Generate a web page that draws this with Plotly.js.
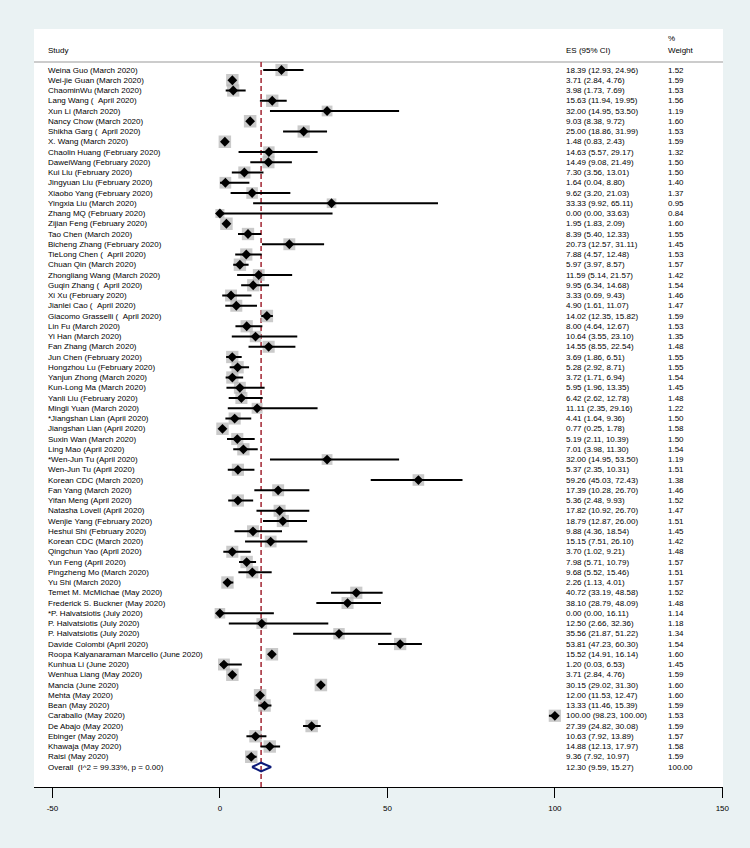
<!DOCTYPE html>
<html>
<head>
<meta charset="utf-8">
<script src="https://cdn.plot.ly/plotly-3.0.1.min.js"></script>
<style>html,body{margin:0;padding:0;background:#eaf2f3;}#chart{width:750px;height:848px;}</style>
</head>
<body>
<div id="chart"></div>
<script>
const studies = [
"Weina Guo (March 2020)","Wei-jie Guan (March 2020)","ChaominWu (March 2020)","Lang Wang (  April 2020)",
"Xun Li (March 2020)","Nancy Chow (March 2020)","Shikha Garg (  April 2020)","X. Wang (March 2020)",
"Chaolin Huang (February 2020)","DaweiWang (February 2020)","Kui Liu (February 2020)","Jingyuan Liu (February 2020)",
"Xiaobo Yang (February 2020)","Yingxia Liu (March 2020)","Zhang MQ (February 2020)","Zijian Feng (February 2020)",
"Tao Chen (March 2020)","Bicheng Zhang (February 2020)","TieLong Chen (  April 2020)","Chuan Qin (March 2020)",
"Zhongliang Wang (March 2020)","Guqin Zhang (  April 2020)","Xi Xu (February 2020)","Jianlei Cao (  April 2020)",
"Giacomo Grasselli (  April 2020)","Lin Fu (March 2020)","Yi Han (March 2020)","Fan Zhang (March 2020)",
"Jun Chen (February 2020)","Hongzhou Lu (February 2020)","Yanjun Zhong (March 2020)","Kun-Long Ma (March 2020)",
"Yanli Liu (February 2020)","Mingli Yuan (March 2020)","*Jiangshan Lian (April 2020)","Jiangshan Lian (April 2020)",
"Suxin Wan (March 2020)","Ling Mao (April 2020)","*Wen-Jun Tu (April 2020)","Wen-Jun Tu (April 2020)",
"Korean CDC (March 2020)","Fan Yang (March 2020)","Yifan Meng (April 2020)","Natasha Lovell (April 2020)",
"Wenjie Yang (February 2020)","Heshui Shi (February 2020)","Korean CDC (March 2020)","Qingchun Yao (April 2020)",
"Yun Feng (April 2020)","Pingzheng Mo (March 2020)","Yu Shi (March 2020)","Temet M. McMichae (May 2020)",
"Frederick S. Buckner (May 2020)","*P. Halvatsiotis (July 2020)","P. Halvatsiotis (July 2020)","P. Halvatsiotis (July 2020)",
"Davide Colombi (April 2020)","Roopa Kalyanaraman Marcello (June 2020)","Kunhua Li (June 2020)","Wenhua Liang (May 2020)",
"Mancia (June 2020)","Mehta (May 2020)","Bean (May 2020)","Caraballo (May 2020)",
"De Abajo (May 2020)","Ebinger (May 2020)","Khawaja (May 2020)","Raisi (May 2020)"
];
const es = [18.39,3.71,3.98,15.63,32.00,9.03,25.00,1.48,14.63,14.49,7.30,1.64,9.62,33.33,0.00,1.95,8.39,20.73,7.88,5.97,11.59,9.95,3.33,4.90,14.02,8.00,10.64,14.55,3.69,5.28,3.72,5.95,6.42,11.11,4.41,0.77,5.19,7.01,32.00,5.37,59.26,17.39,5.36,17.82,18.79,9.88,15.15,3.70,7.98,9.68,2.26,40.72,38.10,0.00,12.50,35.56,53.81,15.52,1.20,3.71,30.15,12.00,13.33,100.00,27.39,10.63,14.88,9.36];
const lo = [12.93,2.84,1.73,11.94,14.95,8.38,18.86,0.83,5.57,9.08,3.56,0.04,3.20,9.92,0.00,1.83,5.40,12.57,4.57,3.97,5.14,6.34,0.69,1.61,12.35,4.64,3.55,8.55,1.86,2.92,1.71,1.96,2.62,2.35,1.64,0.25,2.11,3.98,14.95,2.35,45.03,10.28,2.48,10.92,12.87,4.36,7.51,1.02,5.71,5.52,1.13,33.19,28.79,0.00,2.66,21.87,47.23,14.91,0.03,2.84,29.02,11.53,11.46,98.23,24.82,7.92,12.13,7.92];
const hi = [24.96,4.76,7.69,19.95,53.50,9.72,31.99,2.43,29.17,21.49,13.01,8.80,21.03,65.11,33.63,2.09,12.33,31.11,12.48,8.57,21.57,14.68,9.43,11.07,15.82,12.67,23.10,22.54,6.51,8.71,6.94,13.35,12.78,29.16,9.36,1.78,10.39,11.30,53.50,10.31,72.43,26.70,9.93,26.70,26.00,18.54,26.10,9.21,10.79,15.46,4.01,48.58,48.09,16.11,32.36,51.22,60.30,16.14,6.53,4.76,31.30,12.47,15.39,100.00,30.08,13.89,17.97,10.97];
const weight = [1.52,1.59,1.53,1.56,1.19,1.60,1.53,1.59,1.32,1.50,1.50,1.40,1.37,0.95,0.84,1.60,1.55,1.45,1.53,1.57,1.42,1.54,1.46,1.47,1.59,1.53,1.35,1.48,1.55,1.55,1.54,1.45,1.48,1.22,1.50,1.58,1.50,1.54,1.19,1.51,1.38,1.46,1.52,1.47,1.51,1.45,1.42,1.48,1.57,1.51,1.57,1.52,1.48,1.14,1.18,1.34,1.54,1.60,1.45,1.59,1.60,1.60,1.59,1.53,1.59,1.57,1.58,1.59];
const overallLabel = "Overall  (I^2 = 99.33%, p = 0.00)";
const overallES = 12.30, overallLo = 9.59, overallHi = 15.27, overallWeight = 100.00;
const xTicks = [-50, 0, 50, 100, 150];

const n = studies.length;
const rows = studies.map((_, i) => i);
const overallRow = n;
const FONT = "Liberation Sans, Arial, sans-serif";
const fs = 8;
const sp = s => s.replace(/  /g, " \u00a0");

const traces = [];
// grey weight boxes
traces.push({
  type: "scatter", mode: "markers", x: es, y: rows, hoverinfo: "skip",
  marker: {symbol: "square", color: "#b4b4b4", size: weight.map(w => 12.5 * Math.sqrt(w / 1.6)), line: {width: 0}}
});
// CI lines + point estimates
traces.push({
  type: "scatter", mode: "markers", x: es, y: rows, hoverinfo: "skip",
  marker: {symbol: "diamond", color: "#000", size: 7.5, line: {width: 0}},
  error_x: {type: "data", symmetric: false,
    array: es.map((v, i) => hi[i] - v), arrayminus: es.map((v, i) => v - lo[i]),
    color: "#000", thickness: 2, width: 0}
});
// overall diamond
const dh = 0.42;
traces.push({
  type: "scatter", mode: "lines", hoverinfo: "skip",
  x: [overallLo, overallES, overallHi, overallES, overallLo],
  y: [overallRow, overallRow - dh, overallRow, overallRow + dh, overallRow],
  line: {color: "#0c1a78", width: 2}
});

const ann = [];
const colStudy = 0.0185, colES = 0.771, colW = 0.919;
function addText(x, y, t) {
  ann.push({xref: "paper", yref: "y", x: x, y: y, text: t, showarrow: false,
    xanchor: "left", yanchor: "middle", font: {family: FONT, size: fs, color: "#000"}, borderpad: 0});
}
addText(colStudy, -1.95, "Study");
addText(colES, -1.95, "ES (95% CI)");
addText(colW, -3.05, "%");
addText(colW, -1.95, "Weight");
studies.forEach((s, i) => {
  addText(colStudy, i, sp(s));
  addText(colES, i, es[i].toFixed(2) + " (" + lo[i].toFixed(2) + ", " + hi[i].toFixed(2) + ")");
  addText(colW, i, weight[i].toFixed(2));
});
addText(colStudy, overallRow, sp(overallLabel));
addText(colES, overallRow, overallES.toFixed(2) + " (" + overallLo.toFixed(2) + ", " + overallHi.toFixed(2) + ")");
addText(colW, overallRow, overallWeight.toFixed(2));

const yTop = -4.0, yBot = 69.95, headerLine = -0.78;
const layout = {
  width: 750, height: 848,
  margin: {l: 34, r: 27, t: 29, b: 61, pad: 0},
  paper_bgcolor: "#eaf2f3", plot_bgcolor: "#ffffff",
  showlegend: false,
  font: {family: FONT, size: 8, color: "#000"},
  xaxis: {range: [-55.5, 150.2], tickvals: xTicks, ticktext: xTicks.map(String),
    showgrid: false, zeroline: false, showline: true, linecolor: "#000", linewidth: 1,
    ticks: "outside", ticklen: 10, tickwidth: 1, tickcolor: "#000", ticklabelstandoff: 3,
    tickfont: {family: FONT, size: 8, color: "#000"}, fixedrange: true},
  yaxis: {range: [yBot, yTop], showgrid: false, zeroline: false, showline: false,
    showticklabels: false, ticks: "", fixedrange: true},
  shapes: [
    {type: "line", xref: "paper", yref: "y", x0: 0, x1: 1, y0: headerLine, y1: headerLine,
      line: {color: "#9a9a9a", width: 1.2}, layer: "below"},
    {type: "line", xref: "x", yref: "y", x0: overallES, x1: overallES, y0: headerLine, y1: yBot,
      line: {color: "#a8323f", width: 1.6, dash: "5px,3px"}, layer: "below"}
  ],
  annotations: ann
};
Plotly.newPlot("chart", traces, layout, {staticPlot: true, displayModeBar: false});
</script>
</body>
</html>
